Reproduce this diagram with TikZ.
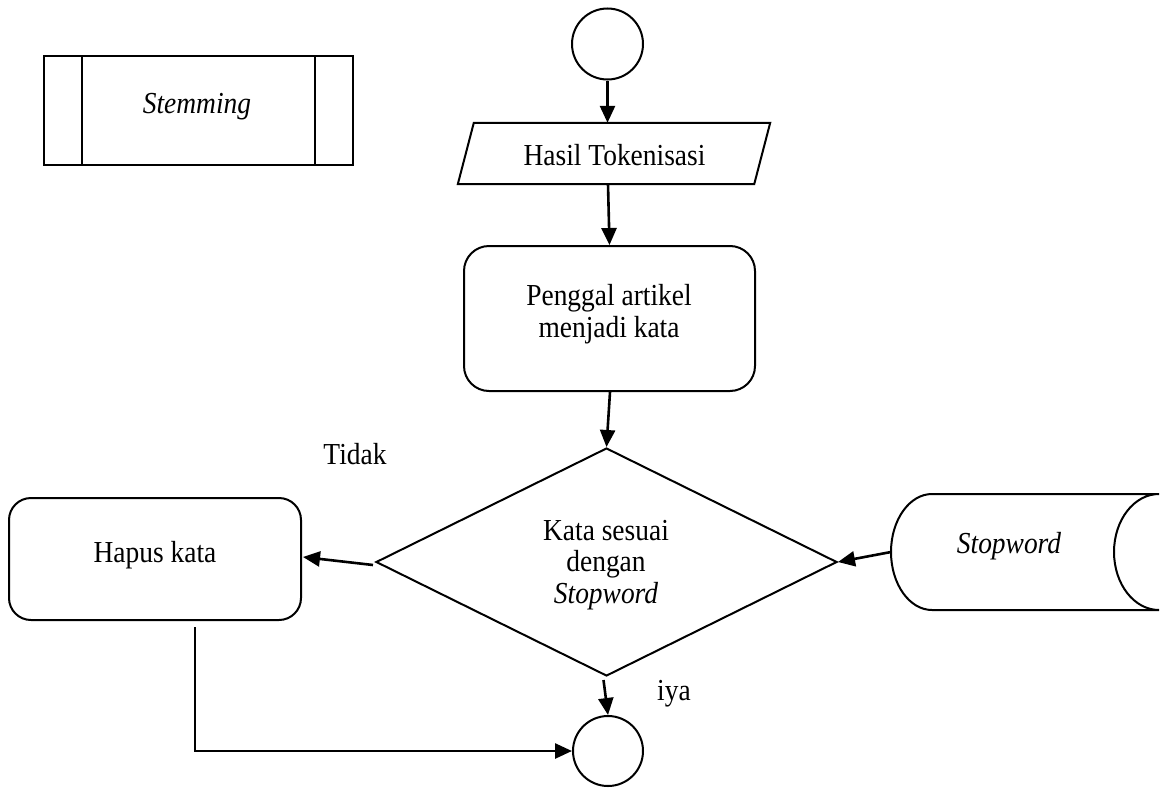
\documentclass[tikz,border=0pt]{standalone}
\usepackage{fontspec}
\setmainfont[FakeStretch=0.9]{Liberation Serif}
\usetikzlibrary{shapes.geometric,arrows.meta,calc}
\begin{document}
\begin{tikzpicture}[x=1pt,y=-1pt,
  shp/.style={draw=black,line width=2pt},
  arr/.style={line width=2.6pt,-{Triangle[length=17pt,width=15pt]}},
  txt/.style={font=\fontsize{30.5}{31.5}\selectfont,inner sep=0pt,align=center},
]
\useasboundingbox[fill=white] (0,0) rectangle (1169,787);

% predefined process
\node[shp,rectangle,minimum width=309pt,minimum height=109pt,inner sep=0pt] (pp) at (198.5,110.5) {};
\draw[shp] ($(pp.north west)+(39,0)$) -- ($(pp.south west)+(39,0)$);
\draw[shp] ($(pp.north east)+(-39,0)$) -- ($(pp.south east)+(-39,0)$);
\node[txt,anchor=base] (tstem) at (197,113) {\itshape Stemming};

% start
\node[shp,circle,minimum size=71pt,inner sep=0pt] (start) at (607.5,44) {};

% input parallelogram
\node[rectangle,minimum width=296pt,minimum height=61pt,inner sep=0pt] (in) at (614,153.5) {};
\draw[shp] ($(in.north west)+(8,0)$) -- ($(in.north east)+(8,0)$) -- ($(in.south east)+(-8,0)$) -- ($(in.south west)+(-8,0)$) -- cycle;
\node[txt,anchor=base] (thasil) at (614.5,165) {Hasil Tokenisasi};

% process
\node[shp,rounded corners=25pt,minimum width=291pt,minimum height=145pt,inner sep=0pt] (proc) at (609.5,318.5) {};
\node[txt] (tpeng) at (609,314) {Penggal artikel\\menjadi kata};

% decision
\node[shp,diamond,aspect=2.02,minimum width=461pt,minimum height=228pt,inner sep=0pt] (dec) at (606.5,562) {};
\node[txt] (tdec) at (606,565) {Kata sesuai\\dengan\\\itshape Stopword};

% hapus
\node[shp,rounded corners=22pt,minimum width=292pt,minimum height=122pt,inner sep=0pt] (hapus) at (155,559) {};
\node[txt,anchor=base] (thapus) at (155,562) {Hapus kata};

% stored data
\draw[shp] (932,494) -- (1159,494)
  .. controls (1134.1,494) and (1114,520) .. (1114,552)
  .. controls (1114,584) and (1134.1,610) .. (1159,610)
  -- (932,610)
  .. controls (909.4,610) and (891,584) .. (891,552)
  .. controls (891,520) and (909.4,494) .. (932,494) -- cycle;
\coordinate (stopL) at (891,552);
\node[txt,anchor=base] (tstop) at (1009,553) {\itshape Stopword};

% end
\node[shp,circle,minimum size=70pt,inner sep=0pt] (end) at (608,751) {};

% labels
\node[txt,anchor=base] (ttidak) at (355,464) {Tidak};
\node[txt,anchor=base] (tiya) at (674,700) {iya};

% connectors
\draw[arr] (start.south) -- (start.south |- in.north);
\draw[arr] ($(in.south)+(-6,0)$) -- (proc.north);
\draw[arr] ($(proc.south)+(0.5,0)$) -- (dec.north);
\draw[arr] ($(dec.west)+(-2,3)$) -- ($(hapus.east)+(1,-2)$);
\draw[arr] (stopL) -- (dec.east);
\draw[arr] ($(dec.south)+(-3,3)$) -- (end.north);
\coordinate (hb) at (195,627);
\draw[arr] (hb) |- (end.west);
\end{tikzpicture}
\end{document}
